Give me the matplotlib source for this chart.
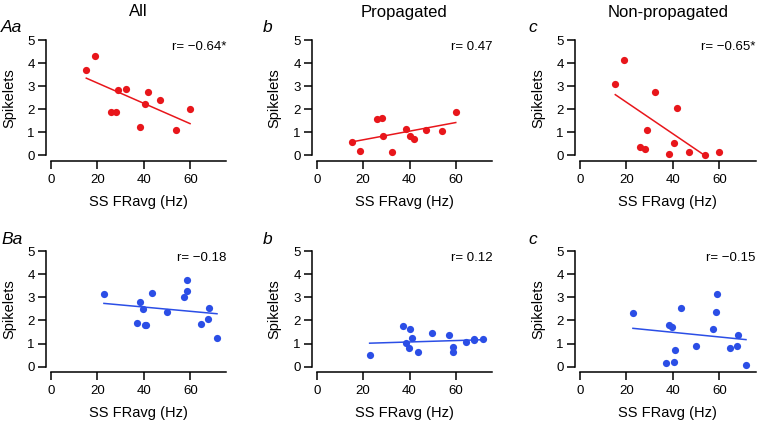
import numpy as np
import matplotlib
matplotlib.use("Agg")
import matplotlib.pyplot as plt

plt.rcParams['font.family'] = ['Liberation Sans', 'DejaVu Sans']

# top row (A): shared x values
x_top = [15.2, 18.8, 26.0, 28.0, 28.7, 32.3, 38.3, 40.4, 41.8, 46.9, 53.8, 59.9]
y_all_A = [3.68, 4.32, 1.89, 1.89, 2.83, 2.89, 1.23, 2.24, 2.75, 2.40, 1.08, 2.02]
y_prop_A = [0.58, 0.19, 1.56, 1.60, 0.84, 0.13, 1.16, 0.82, 0.69, 1.10, 1.07, 1.89]
y_nonprop_A = [3.11, 4.15, 0.36, 0.27, 1.08, 2.73, 0.07, 0.53, 2.05, 0.13, 0.01, 0.13]

# bottom row (B)
x_bot = [22.8, 37.2, 38.4, 39.8, 40.4, 41.0, 43.6, 49.8, 57.2, 58.6, 58.8, 64.5, 67.6, 67.9, 71.5]
y_all_B = [3.16, 1.90, 2.80, 2.50, 1.80, 1.80, 3.17, 2.37, 3.01, 3.29, 3.75, 1.85, 2.06, 2.55, 1.26]
y_prop_B = [0.51, 1.74, 1.02, 0.80, 1.63, 1.23, 0.63, 1.47, 1.35, 0.87, 0.63, 1.07, 1.16, 1.20, 1.20]
y_nonprop_B = [2.34, 0.17, 1.82, 1.72, 0.18, 0.73, 2.56, 0.90, 1.64, 2.37, 3.14, 0.79, 0.90, 1.36, 0.08]

col_titles = ["All", "Propagated", "Non-propagated"]
panel_labels = [["Aa", "b", "c"], ["Ba", "b", "c"]]
r_texts = [["r= \u22120.64*", "r= 0.47", "r= \u22120.65*"],
           ["r= \u22120.18", "r= 0.12", "r= \u22120.15"]]

red = '#e8161b'
blue = '#2b4ee6'

W, H = 758, 421
fig = plt.figure(figsize=(W / 100, H / 100), dpi=100)

col_left = [51, 316.7, 580]
row_top = [40, 251.3]
aw, ah = 175.5, 115.3

rows = [(x_top, [y_all_A, y_prop_A, y_nonprop_A], red),
        (x_bot, [y_all_B, y_prop_B, y_nonprop_B], blue)]

for r, (xs, ys_list, color) in enumerate(rows):
    for c, ys in enumerate(ys_list):
        left = col_left[c] / W
        bottom = 1 - (row_top[r] + ah) / H
        ax = fig.add_axes([left, bottom, aw / W, ah / H])
        x = np.array(xs)
        y = np.array(ys)
        ax.plot(x, y, 'o', color=color, markersize=5.2, markeredgewidth=0, clip_on=False, zorder=3)
        k, b = np.polyfit(x, y, 1)
        xl = np.array([x.min(), x.max()])
        ax.plot(xl, k * xl + b, '-', color=color, linewidth=1.1)
        ax.set_xlim(0, 75.6)
        ax.set_ylim(0, 5)
        ax.set_xticks([0, 20, 40, 60])
        ax.set_yticks([0, 1, 2, 3, 4, 5])
        for s in ['top', 'right']:
            ax.spines[s].set_visible(False)
        ax.spines['left'].set_position(('outward', 3.6))
        ax.spines['bottom'].set_position(('outward', 4.1))
        ax.spines['left'].set_linewidth(1.1)
        ax.spines['bottom'].set_linewidth(1.1)
        ax.tick_params(length=6, width=1.1, labelsize=9.5, colors='black')
        ax.tick_params(axis='x', pad=3.5)
        ax.tick_params(axis='y', pad=2)
        ax.set_ylabel("Spikelets", fontsize=10.5)
        ax.yaxis.set_label_coords(-0.2, 0.5)
        ax.set_xlabel("SS FRavg (Hz)", fontsize=10.5)
        ax.xaxis.set_label_coords(0.5, -0.345)
        ax.text(1.0, 0.94, r_texts[r][c], transform=ax.transAxes, ha='right', va='center', fontsize=9.5)
        # panel letter
        lx = [1, 263, 528][c]
        ly = [28, 239][r]
        fig.text(lx / W, 1 - ly / H, panel_labels[r][c], fontsize=12.5, style='italic', ha='left', va='center')

for c, t in enumerate(col_titles):
    cx = (col_left[c] + aw / 2) / W
    fig.text(cx, 1 - 12 / H, t, fontsize=12, ha='center', va='center')

fig.savefig("out.png", dpi=100)
